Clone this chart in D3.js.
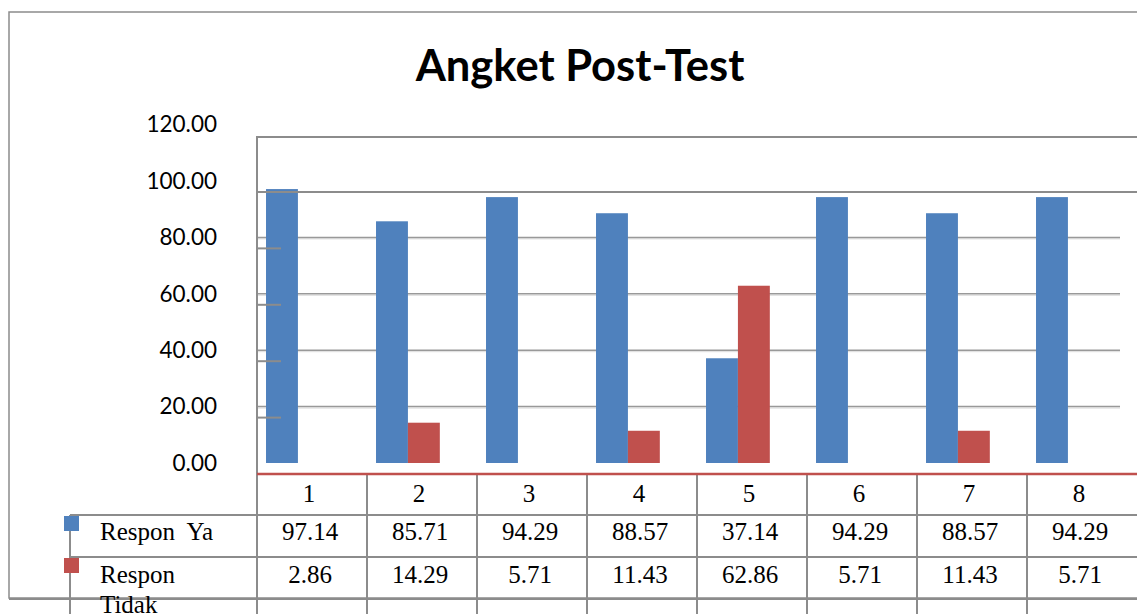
<!DOCTYPE html>
<html>
<head>
<meta charset="utf-8">
<script src="https://cdn.jsdelivr.net/npm/d3@7"></script>
<style>
  body { margin: 0; background: #fff; }
  svg { display: block; }
</style>
</head>
<body>
<script>
    var categories = ['1', '2', '3', '4', '5', '6', '7', '8'];
    var responYa = [97.14, 85.71, 94.29, 88.57, 37.14, 94.29, 88.57, 94.29];
    var responTidak = [2.86, 14.29, 5.71, 11.43, 62.86, 5.71, 11.43, 5.71];
    var seriesNames = ['Respon  Ya', 'Respon Tidak'];
    var yTicks = [0, 20, 40, 60, 80, 100, 120];

    var colors = ['#4F81BD', '#C0504D'];
    var gridColor = '#8c8c8c';

    var width = 1137, height = 614;

    var svg = d3.select("body")
      .append("svg")
      .attr("width", width)
      .attr("height", height);

    // scales
    var x = d3.scaleBand()
      .domain(categories)
      .range([257, 1137]);

    var y = d3.scaleLinear()
      .domain([0, 120])
      .range([463, 124.6]);

    // the frame / ticks sit a bit lower than the labels in the source
    var yFrame = d3.scaleLinear()
      .domain([0, 120])
      .range([474, 135.6]);

    var barW = x.bandwidth() * 0.29;
    var barOff = x.bandwidth() * 0.082;

    // outer chart border
    svg.append("path")
      .attr("d", "M" + (width + 5) + ",12H9V598H" + (width + 5))
      .attr("fill", "none")
      .attr("stroke", gridColor)
      .attr("stroke-width", 1.5);

    // title
    svg.append("text")
      .attr("x", 580)
      .attr("y", 81)
      .attr("text-anchor", "middle")
      .style("font-family", "Lato, 'Open Sans', sans-serif")
      .style("font-weight", "bold")
      .style("font-size", "43.5px")
      .text("Angket Post-Test");

    // gridlines (behind bars)
    var grid = svg.append("g");
    grid.selectAll("line.shadow")
      .data(yTicks.filter(d => d > 0 && d < 100))
      .enter().append("line")
      .attr("class", "shadow")
      .attr("x1", x.range()[0]).attr("x2", x.range()[1] - 17)
      .attr("y1", d => y(d) + 1.5).attr("y2", d => y(d) + 1.5)
      .attr("stroke", "#dcdcdc").attr("stroke-width", 1);
    grid.selectAll("line.main")
      .data(yTicks.filter(d => d > 0 && d < 100))
      .enter().append("line")
      .attr("class", "main")
      .attr("x1", x.range()[0]).attr("x2", x.range()[1] - 17)
      .attr("y1", d => y(d)).attr("y2", d => y(d))
      .attr("stroke", "#999").attr("stroke-width", 1.5);

    // y labels
    var yAxis = svg.append("g")
      .attr("transform", "translate(" + x.range()[0] + ",0)")
      .call(d3.axisLeft(y).tickValues(yTicks).tickSize(0).tickPadding(40).tickFormat(d3.format(".2f")));
    yAxis.select(".domain").remove();
    yAxis.selectAll("text")
      .attr("fill", "#000")
      .style("font-family", "Lato, 'Open Sans', sans-serif")
      .style("font-size", "22.5px");

    // bars
    var series = [responYa, responTidak];
    series.forEach(function(vals, s) {
      svg.append("g")
        .selectAll("rect")
        // tiny Tidak values are not drawn in the source picture
        .data(vals.map((v, i) => ({ v: v, c: categories[i] })).filter(d => s === 0 || d.v >= 10))
        .enter().append("rect")
        .attr("x", d => x(d.c) + barOff + s * barW)
        .attr("y", d => y(d.v))
        .attr("width", barW)
        .attr("height", d => y(0) - y(d.v))
        .attr("fill", colors[s]);
    });

    // plot frame on top
    var frame = svg.append("g").attr("stroke", gridColor).attr("stroke-width", 2).attr("fill", "none");
    frame.append("path")
      .attr("d", "M" + (width + 5) + "," + (yFrame(120) + 1.5) + "H" + x.range()[0] + "V" + height);
    frame.append("line")
      .attr("x1", x.range()[0]).attr("x2", width + 5)
      .attr("y1", yFrame(100)).attr("y2", yFrame(100));
    frame.selectAll("line.tick")
      .data(yTicks.filter(d => d > 0 && d < 100))
      .enter().append("line")
      .attr("class", "tick")
      .attr("x1", x.range()[0]).attr("x2", x.range()[0] + 24)
      .attr("y1", d => yFrame(d)).attr("y2", d => yFrame(d));

    // data table
    var rowTop = [yFrame(0), 515, 557, 599];
    var table = svg.append("g").attr("stroke", gridColor).attr("stroke-width", 2);
    table.selectAll("line.col")
      .data(categories.slice(1))
      .enter().append("line")
      .attr("class", "col")
      .attr("x1", d => x(d)).attr("x2", d => x(d))
      .attr("y1", rowTop[0]).attr("y2", height);
    table.append("line")
      .attr("x1", 70).attr("x2", 70)
      .attr("y1", rowTop[1]).attr("y2", height);
    table.selectAll("line.row")
      .data(rowTop.slice(1))
      .enter().append("line")
      .attr("class", "row")
      .attr("x1", (d, i) => i < 2 ? 70 : 9).attr("x2", width + 5)
      .attr("y1", d => d).attr("y2", d => d);

    // red category axis line
    svg.append("line")
      .attr("x1", x.range()[0]).attr("x2", width + 5)
      .attr("y1", yFrame(0)).attr("y2", yFrame(0))
      .attr("stroke", colors[1]).attr("stroke-width", 2.5);

    var serif = "'Liberation Serif', 'Times New Roman', serif";

    // header numbers
    svg.append("g")
      .selectAll("text")
      .data(categories)
      .enter().append("text")
      .attr("x", d => x(d) + x.bandwidth() / 2 - 3)
      .attr("y", 502)
      .attr("text-anchor", "middle")
      .style("font-family", serif)
      .style("font-size", "25px")
      .text(d => d);

    // value rows
    var rowBase = [540, 583];
    series.forEach(function(vals, s) {
      svg.append("g")
        .selectAll("text")
        .data(vals)
        .enter().append("text")
        .attr("x", (d, i) => x(categories[i]) + x.bandwidth() / 2 - 2)
        .attr("y", rowBase[s])
        .attr("text-anchor", "middle")
        .style("font-family", serif)
        .style("font-size", "25px")
        .text(d => d3.format(".2f")(d));

      // legend key
      svg.append("rect")
        .attr("x", 64)
        .attr("y", rowTop[s + 1] + 1)
        .attr("width", 15)
        .attr("height", 15)
        .attr("fill", colors[s]);

      // series name (wraps like the source)
      var words = s === 0 ? [seriesNames[s]] : seriesNames[s].split(" ");
      var t = svg.append("text")
        .attr("x", 100)
        .attr("y", rowBase[s])
        .style("font-family", serif)
        .style("font-size", "25px")
        .style("white-space", "pre");
      words.forEach(function(w, k) {
        t.append("tspan")
          .attr("x", 100)
          .attr("dy", k === 0 ? 0 : 30)
          .text(w);
      });
    });
</script>
</body>
</html>
